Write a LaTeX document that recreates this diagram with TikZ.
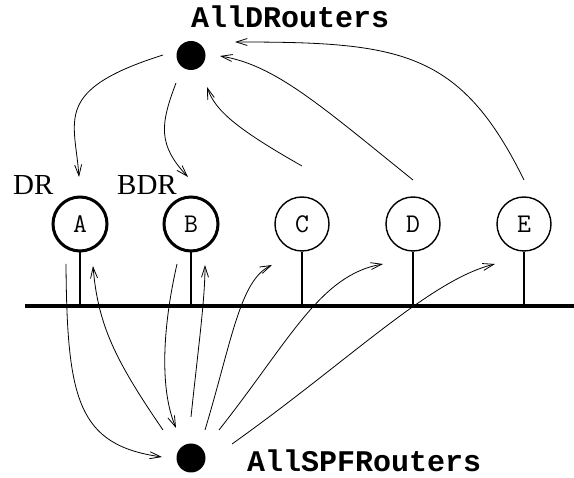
\documentclass[tikz,border=0pt]{standalone}
\usepackage{fontspec}
\setmainfont{Liberation Serif}
\newfontfamily\labelmono{Liberation Mono}
\usetikzlibrary{arrows.meta}
\begin{document}
\begin{tikzpicture}[x=1pt,y=-1pt,
  router/.style={circle,draw,minimum size=54pt,inner sep=0pt,line width=1.4pt,
                 font=\fontsize{27}{27}\ttfamily},
  desig/.style={router,line width=3pt},
  group/.style={circle,fill,inner sep=0pt,minimum size=29pt},
  addr/.style={font=\fontsize{30}{30}\labelmono\bfseries,inner sep=0pt,anchor=base west},
  role/.style={font=\fontsize{29}{29}\selectfont,inner sep=0pt,anchor=base west},
  msg/.style={line width=0.8pt,-{Straight Barb[length=11pt,width=7pt]}},
  stem/.style={line width=2pt},
  bus/.style={line width=3.5pt}]
\useasboundingbox (0,0) rectangle (574,478);

% multicast group addresses
\node[group] (alld) at (191,55.5) {};
\node[group] (allspf) at (191,458) {};
\node[addr] (alldlbl) at (191,28) {AllDRouters};
\node[addr] (allspflbl) at (247,472) {AllSPFRouters};

% routers on the broadcast segment
\node[desig]  (A) at (80,224)  {A};
\node[desig]  (B) at (191,224) {B};
\node[router] (C) at (302,224) {C};
\node[router] (D) at (413,224) {D};
\node[router] (E) at (524,224) {E};
\node[role] (dr)  at (13,195)  {DR};
\node[role] (bdr) at (117,195) {BDR};

% the LAN
\coordinate (busL) at (25,306);
\coordinate (busR) at (574,306);
\draw[bus] (busL) -- (busR);
\foreach \r in {A,B,C,D,E}
  \draw[stem] (\r.south) -- (\r.south |- busL);

% end points of the message arrows
\coordinate (dA1) at (163,55);  \coordinate (dA2) at (79,177);
\coordinate (dB1) at (176,83);  \coordinate (dB2) at (188,177);
\coordinate (cD1) at (302,166); \coordinate (cD2) at (207,87);
\coordinate (dD1) at (413,180); \coordinate (dD2) at (220,56);
\coordinate (eD1) at (524,180); \coordinate (eD2) at (235,42);
\coordinate (aS1) at (66,264);  \coordinate (aS2) at (162,457);
\coordinate (sA1) at (163,430); \coordinate (sA2) at (93,266);
\coordinate (bS1) at (177,264); \coordinate (bS2) at (176,428);
\coordinate (sB1) at (191,417); \coordinate (sB2) at (205,265);
\coordinate (sC1) at (205,430); \coordinate (sC2) at (272,265);
\coordinate (sD1) at (219,430); \coordinate (sD2) at (383,264);
\coordinate (sE1) at (232,444); \coordinate (sE2) at (495,264);

% AllDRouters traffic
\draw[msg] (dA1) .. controls (52,90) and (75,120) .. (dA2);
\draw[msg] (dB1) .. controls (160,125) and (158,145) .. (dB2);
\draw[msg] (cD1) .. controls (235,128) and (215,110) .. (cD2);
\draw[msg] (dD1) .. controls (320,105) and (275,65) .. (dD2);
\draw[msg] (eD1) .. controls (460,50) and (400,42) .. (eD2);

% AllSPFRouters traffic
\draw[msg] (aS1) .. controls (67,400) and (78,445) .. (aS2);
\draw[msg] (sA1) .. controls (115,360) and (98,325) .. (sA2);
\draw[msg] (bS1) .. controls (162,330) and (160,390) .. (bS2);
\draw[msg] (sB1) .. controls (198,350) and (205,300) .. (sB2);
\draw[msg] (sC1) .. controls (232,340) and (240,280) .. (sC2);
\draw[msg] (sD1) .. controls (290,340) and (320,275) .. (sD2);
\draw[msg] (sE1) .. controls (350,360) and (430,280) .. (sE2);
\end{tikzpicture}
\end{document}
